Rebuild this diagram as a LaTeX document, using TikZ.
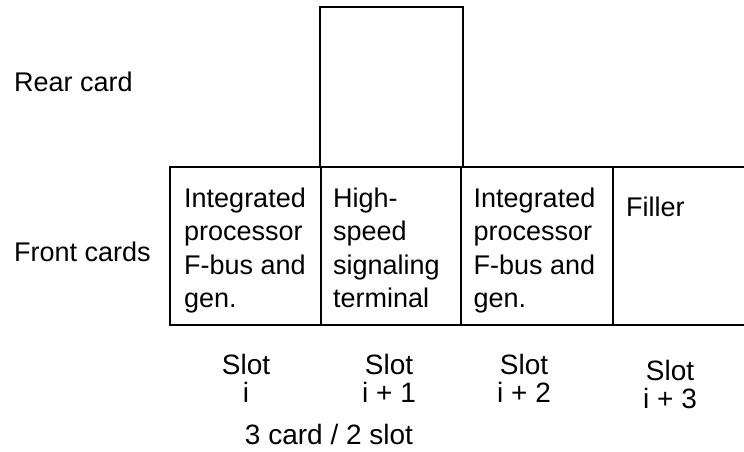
\documentclass[tikz,border=0pt]{standalone}
\usepackage{fontspec}
\setmainfont{Liberation Sans}
\begin{document}
\begin{tikzpicture}[x=1pt,y=-1pt,
  frame/.style={line width=1.5pt,draw=black},
  heavy/.style={line width=2.8pt,draw=black},
  celltext/.style={anchor=north west,align=left,inner sep=0pt,font=\fontsize{27}{33.5}\selectfont},
  sidelabel/.style={anchor=base west,inner sep=0pt,font=\fontsize{27}{30}\selectfont},
  slotlabel/.style={anchor=north,align=center,inner sep=0pt,font=\fontsize{28}{28}\selectfont}]
\useasboundingbox (0,0) rectangle (744,451);
% rear card
\coordinate (r1) at (320,7);
\coordinate (r2) at (463,167);
\draw[frame] (r1) rectangle (r2);
% front row
\coordinate (tl) at (170,167);
\coordinate (tr) at (744,167);
\coordinate (bl) at (170,325);
\coordinate (br) at (744,325);
\draw[frame] (tr) -- (tl) -- (bl) -- (br);
\coordinate (d1t) at (321,167); \coordinate (d1b) at (321,325);
\coordinate (d2t) at (461,167); \coordinate (d2b) at (461,325);
\coordinate (d3t) at (613,167); \coordinate (d3b) at (613,325);
\draw[frame] (d1t) -- (d1b);
\draw[frame] (d2t) -- (d2b);
\draw[heavy] (d3t) -- (d3b);
% labels
\node[sidelabel] (rear) at (14,91) {Rear card};
\node[sidelabel] (front) at (14,261) {Front cards};
% cell texts
\node[celltext] (c1) at (184,183.5) {\strut Integrated\\processor\\F-bus and\\gen.};
\node[celltext] (c2) at (333,183.5) {\strut High-\\speed\\signaling\\terminal};
\node[celltext] (c3) at (473.5,183.5) {\strut Integrated\\processor\\F-bus and\\gen.};
\node[celltext] (c4) at (626,192.5) {\strut Filler};
% slots
\node[slotlabel] (s1) at (246,353.5) {\rule{0pt}{21pt}Slot\\i};
\node[slotlabel] (s2) at (389,353.5) {\rule{0pt}{21pt}Slot\\i + 1};
\node[slotlabel] (s3) at (524,353.5) {\rule{0pt}{21pt}Slot\\i + 2};
\node[slotlabel] (s4) at (670,359) {\rule{0pt}{21pt}Slot\\i + 3};
\node[slotlabel] (cap) at (329,423) {\rule{0pt}{21pt}3 card / 2 slot};
\end{tikzpicture}
\end{document}
